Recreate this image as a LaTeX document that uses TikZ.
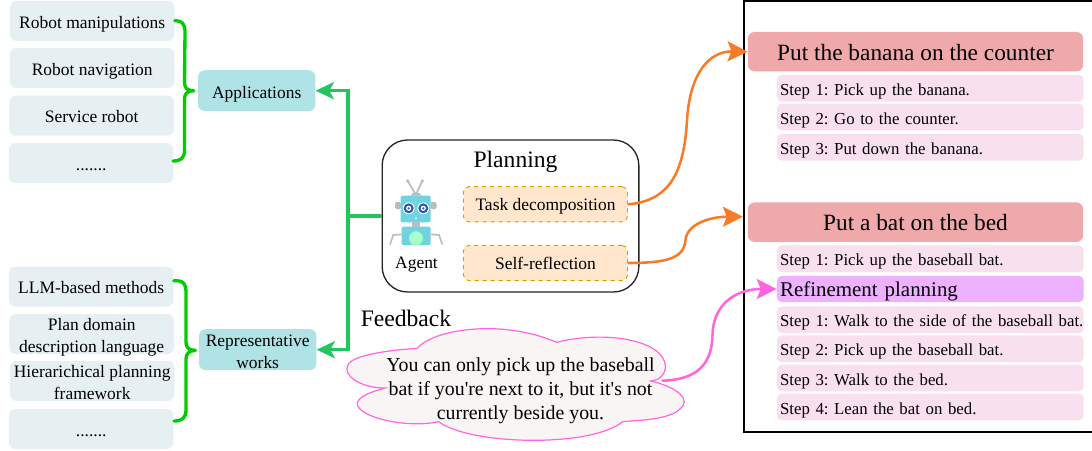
\documentclass[tikz,border=0pt]{standalone}
\usepackage{fontspec}
\setmainfont{Liberation Serif}[Ligatures=TeXOff]
\AtBeginDocument{\frenchspacing}
\usetikzlibrary{arrows.meta,calc}
\definecolor{leftfill}{HTML}{E6EFF1}
\definecolor{tealfill}{HTML}{B0E3E6}
\definecolor{orangefill}{HTML}{FFE6CC}
\definecolor{orangedash}{HTML}{D79B00}
\definecolor{redfill}{HTML}{F0A9AB}
\definecolor{stepfill}{HTML}{F8E0EF}
\definecolor{reffill}{HTML}{EEB1FF}
\definecolor{cloudfill}{HTML}{F9F5F5}
\definecolor{pinkline}{HTML}{FF66DD}
\definecolor{braceg}{HTML}{00CC00}
\definecolor{arrowg}{HTML}{22C55E}
\definecolor{arrowo}{HTML}{F97B27}
\definecolor{robotblue}{HTML}{6FD3E0}
\definecolor{robotgrey}{HTML}{B3BFC4}
\definecolor{robotmint}{HTML}{A8FFCC}
\definecolor{roboteye}{HTML}{2F55B0}
\tikzset{
  x=0.75pt,y=-0.75pt,
  txt/.style={inner sep=0pt,font=\fontsize{13.1}{16.5}\selectfont,align=center,text height=12pt,text depth=1pt},
  twolines/.style={text height=28.5pt},
  leftbox/.style={txt,fill=leftfill,rounded corners=5pt,minimum width=123.4pt,minimum height=30pt},
  tealbox/.style={txt,fill=tealfill,rounded corners=5pt,minimum width=88pt,minimum height=30.7pt},
  dashbox/.style={txt,text height=11.5pt,text depth=1.5pt,fill=orangefill,draw=orangedash,dashed,line width=.7pt,rounded corners=4pt,minimum width=123pt,minimum height=26.4pt},
  redbox/.style={inner sep=0pt,align=center,font=\fontsize{17.5}{20}\selectfont,text height=13.6pt,text depth=1pt,fill=redfill,rounded corners=5pt,minimum width=251.5pt,minimum height=29.6pt},
  stepbox/.style={inner sep=0pt,font=\fontsize{12.6}{15}\selectfont,align=left,text width=230pt,fill=stepfill,rounded corners=3.5pt,minimum height=20pt,text height=12.6pt,text depth=2pt},
  refbox/.style={stepbox,fill=reffill,font=\fontsize{15.7}{18}\selectfont,minimum height=19.6pt,text height=12.5pt,text depth=2pt},
  brace/.style={braceg,line width=2.5pt,line cap=round,line join=round},
  garrow/.style={arrowg,line width=2.6pt,-{Stealth[length=13.7pt,width=12.8pt,inset=3.5pt]}},
  oarrow/.style={arrowo,line width=1.9pt,-{Stealth[length=15pt,width=15pt,inset=3pt]}},
  parrow/.style={pinkline,line width=1.9pt,-{Stealth[length=15pt,width=15pt,inset=3pt]}},
}
\begin{document}
\begin{tikzpicture}
\useasboundingbox (0,0) rectangle (1092,450);
% left lists
\node[leftbox] (a1) at (92.2,21) {Robot manipulations};
\node[leftbox,text height=12.8pt] (a2) at (92.2,68) {Robot navigation};
\node[leftbox,text height=11.4pt] (a3) at (91.7,115.7) {Service robot};
\node[leftbox] (a4) at (91.2,163) {.......};
\node[leftbox,text height=11.2pt] (b1) at (91.2,286.7) {LLM-based methods};
\node[leftbox,twolines] (b2) at (91.7,334.2) {Plan domain\\description language};
\node[leftbox,twolines] (b3) at (92.2,381) {Hierarichical planning\\framework};
\node[leftbox] (b4) at (91.2,429) {.......};
\node[tealbox] (app) at (256.7,90.7) {Applications};
\node[tealbox,twolines] (rep) at (257.7,349.7) {Representative\\works};
% braces
\draw[brace] (a1.east |- 173,20.7) -- (176,20.7) .. controls (182,20.7) and (185,24) .. (185,32) -- (184.5,82) .. controls (184.5,88) and (187,90.7) .. ($(app.west)+(-4,0)$) .. controls (187,90.7) and (184.5,94) .. (184.5,99) -- (184.5,150) .. controls (184.5,158) and (181,161) .. (173,161);
\draw[brace] (b1.east |- 174,280.7) -- (177,280.7) .. controls (183,280.7) and (186,284) .. (186,292) -- (186,342) .. controls (186,347.5) and (188.5,350.3) .. ($(rep.west)+(-3.3,0.6)$) .. controls (188.5,350.7) and (186,354) .. (186,359) -- (186,410) .. controls (186,418) and (182,421) .. (174,421);
% planning box
\node[draw=black!85,line width=1pt,fill=white,rounded corners=19pt,minimum width=192.5pt,minimum height=114pt,inner sep=0pt] (plan) at (510.5,216) {};
\node[inner sep=0pt,font=\fontsize{17.7}{20}\selectfont,anchor=base] (plantitle) at (515.5,167.3) {Planning};
\node[dashbox] (task) at (545.5,204.3) {Task decomposition};
\node[dashbox] (self) at (545.5,263) {Self-reflection};
\node[txt] (agent) at (416.5,261) {Agent};
% robot
\draw[robotgrey,line width=1.3pt,line cap=round] (415,193.3) -- (407.7,181);
\draw[robotgrey,line width=1.3pt,line cap=round] (416.5,193.3) -- (422.3,181);
\fill[robotgrey] (407.7,181) circle (1.8);
\fill[robotgrey] (422.3,181) circle (1.8);
\fill[robotgrey] (410.7,195.7) .. controls (411,191.5) and (421,191.5) .. (421.7,195.7) -- cycle;
\fill[robotgrey,rounded corners=1pt] (395,202) rectangle (401,209);
\fill[robotgrey,rounded corners=1pt] (430.5,202) rectangle (436.5,209);
\fill[robotblue,rounded corners=1pt] (400.7,195.7) rectangle (430.7,222.3);
\fill[robotgrey] (412.3,222.3) rectangle (420,227);
\fill[robotblue,rounded corners=1pt] (401.7,226.7) rectangle (430.7,245);
\fill[robotmint] (416,238.3) circle (7);
\foreach \ex in {408.7,423.3}{
  \fill[white] (\ex,208.3) circle (5.9);
  \fill[roboteye] (\ex,208.3) circle (5);
  \fill[white] (\ex,208.3) circle (2.6);
  \fill[roboteye] (\ex,208.3) circle (1.2);
}
\fill[white] (416,218) circle (.9);
\draw[robotgrey,line width=1.2pt] (401.7,234.3) -- (393.3,235) -- (390,244.5);
\draw[robotgrey,line width=1.2pt] (430.7,234.3) -- (439,235) -- (442.3,244.5);
% green arrows
\coordinate (gj) at (348,216);
\draw[arrowg,line width=2.6pt] (plan.west) -- (gj);
\draw[garrow] (gj) |- (app.east);
\draw[garrow] (gj) |- (rep.east);
% right frame
\draw[black,line width=1.1pt] (1093,1) -- (744,1) -- (744,432) -- (1093,432);
\node[redbox] (g1) at (915.5,51.7) {Put the banana on the counter};
\node[stepbox] (s11) at (930.3,88.3) {\hspace*{2.3pt}Step 1: Pick up the banana.};
\node[stepbox] (s12) at (930.3,117) {\hspace*{2.3pt}Step 2: Go to the counter.};
\node[stepbox] (s13) at (930.3,147.3) {\hspace*{2.3pt}Step 3: Put down the banana.};
\node[redbox] (g2) at (915.5,222.2) {Put a bat on the bed};
\node[stepbox] (s21) at (930.3,258.8) {\hspace*{2.3pt}Step 1: Pick up the baseball bat.};
\node[refbox] (r) at (930.3,289) {\hspace*{2.3pt}Refinement planning};
\node[stepbox] (s22) at (930.3,319.8) {\hspace*{2.3pt}Step 1: Walk to the side of the baseball bat.};
\node[stepbox] (s23) at (930.3,348.8) {\hspace*{2.3pt}Step 2: Pick up the baseball bat.};
\node[stepbox] (s24) at (930.3,378) {\hspace*{2.3pt}Step 3: Walk to the bed.};
\node[stepbox] (s25) at (930.3,407) {\hspace*{2.3pt}Step 4: Lean the bat on bed.};
% orange arrows
\draw[oarrow] (task.east) .. controls (668,201) and (684,175) .. (687,120) .. controls (690,72) and (710,51) .. (g1.west);
\draw[oarrow] (self.east) .. controls (668,263) and (684,258) .. (685.5,240) .. controls (687,224) and (710,216.7) .. ($(g2.west)+(-4.7,-5.5)$);
% cloud
\draw[pinkline,fill=cloudfill,line width=.9pt] (417.3,348.3) .. controls (432,330) and (500,318) .. (556.7,342.3) .. controls (605,330) and (665,340) .. (665.5,367) .. controls (665,376) and (657,381) .. (650.7,381) .. controls (680,388) and (690,400) .. (681,408) .. controls (670,420) and (640,420) .. (622.7,421.7) .. controls (590,448) and (470,445) .. (438.5,421.7) .. controls (400,430) and (340,412) .. (362,397) .. controls (368,393) and (375,391) .. (385,388) .. controls (360,388) and (342,375) .. (348,365) .. controls (352,355) and (390,350) .. (417.3,348.3) -- cycle;
\node[txt,font=\fontsize{14.9}{18}\selectfont,text height=48pt] (cloudtxt) at (520.5,387.7) {You can only pick up the baseball\\bat if you're next to it, but it's not\\currently beside you.};
\node[inner sep=0pt,font=\fontsize{17.7}{20}\selectfont,anchor=base west] (fb) at (360.5,326.7) {Feedback};
\coordinate (cloudout) at (661.7,380.7);
\draw[parrow] (cloudout) .. controls (690,380) and (712,370) .. (712.5,335) .. controls (713,305) and (735,289) .. (r.west);
\end{tikzpicture}
\end{document}
